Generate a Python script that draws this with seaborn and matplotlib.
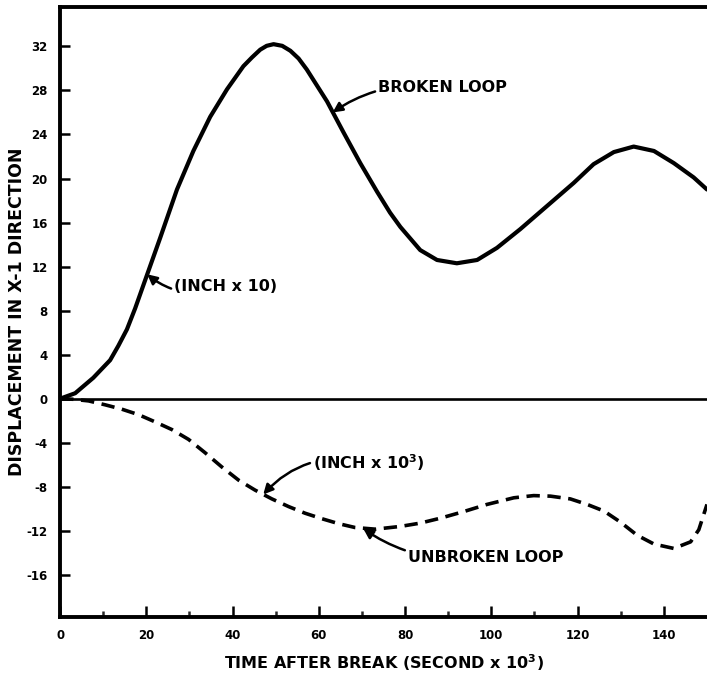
import numpy as np
import pandas as pd
import matplotlib
matplotlib.use("Agg")
import matplotlib.pyplot as plt
import seaborn as sns

# Broken loop (INCH x 10) - solid curve
broken_t = [0, 3.5, 7.7, 11.6, 13.5, 15.5, 17.4, 19.3, 23.2, 27.1, 30.9, 34.8, 38.7, 42.5,
            44.5, 46.4, 47.9, 49.5, 51.5, 53.4, 55.3, 57.2, 61.9, 65.7, 69.6, 73.5, 76.5,
            78.9, 83.5, 87.4, 92.0, 96.7, 101.3, 106.7, 112.9, 119.1, 123.7, 128.4,
            133.0, 137.7, 142.3, 146.9, 150.0]
broken_d = [0.0, 0.5, 1.9, 3.5, 4.8, 6.3, 8.2, 10.3, 14.6, 19.0, 22.5, 25.6, 28.1, 30.2,
            31.0, 31.7, 32.05, 32.2, 32.05, 31.6, 30.9, 29.9, 27.0, 24.2, 21.4, 18.8, 16.9,
            15.6, 13.5, 12.6, 12.3, 12.6, 13.7, 15.4, 17.5, 19.6, 21.3, 22.4,
            22.9, 22.5, 21.4, 20.1, 19.0]

# Unbroken loop (INCH x 10^3) - dashed curve
unbroken_t = [0, 3.0, 6.6, 10.4, 14.3, 18.2, 22.0, 25.9, 29.8, 33.6, 37.5, 41.4, 45.2,
              49.1, 53.0, 56.8, 60.7, 64.6, 68.4, 73.1, 78.9, 83.5, 88.2, 93.6, 99.0,
              105.2, 109.8, 113.7, 118.3, 122.2, 126.1, 129.9, 133.8, 137.7, 142.3,
              146.2, 148.1, 150.0]
unbroken_d = [0.0, -0.05, -0.2, -0.55, -0.95, -1.45, -2.1, -2.8, -3.7, -4.9, -6.2, -7.4, -8.3,
              -9.1, -9.8, -10.4, -10.9, -11.35, -11.7, -11.85, -11.6, -11.3, -10.85, -10.25, -9.6,
              -9.0, -8.8, -8.85, -9.1, -9.6, -10.2, -11.2, -12.4, -13.2, -13.6,
              -13.0, -11.9, -9.6]

x_ticks = [0, 20, 40, 60, 80, 100, 120, 140]
x_minor = [10, 30, 50, 70, 90, 110, 130]
y_ticks = [-16, -12, -8, -4, 0, 4, 8, 12, 16, 20, 24, 28, 32]

sns.set_theme(style="white")
plt.rcParams['font.family'] = ['DejaVu Sans']
plt.rcParams['font.weight'] = 'bold'
plt.rcParams['text.color'] = 'black'
plt.rcParams['axes.labelcolor'] = 'black'

fig = plt.figure(figsize=(7.07, 6.74), dpi=100)
ax = fig.add_axes([0.085, 0.085, 0.915, 0.905])

broken = pd.DataFrame({"t": broken_t, "d": broken_d})
unbroken = pd.DataFrame({"t": unbroken_t, "d": unbroken_d})

sns.lineplot(data=broken, x="t", y="d", ax=ax, color="black", lw=3.0,
             estimator=None, sort=False, solid_joinstyle="round")
sns.lineplot(data=unbroken, x="t", y="d", ax=ax, color="black", lw=2.6,
             estimator=None, sort=False, linestyle=(0, (3.7, 2.1)),
             dash_joinstyle="round")
ax.axhline(0, color="black", lw=1.9, zorder=1)

ax.set_xlim(0, 150)
ax.set_ylim(-19.8, 35.6)

for s in ["left", "bottom", "top"]:
    ax.spines[s].set_visible(True)
    ax.spines[s].set_color("black")
    ax.spines[s].set_linewidth(2.8)
ax.spines["right"].set_visible(False)

ax.set_xticks(x_ticks)
ax.set_xticklabels([str(v) for v in x_ticks])
ax.set_xticks(x_minor, minor=True)
ax.set_yticks(y_ticks)
ax.set_yticklabels([str(v) for v in y_ticks])
ax.tick_params(axis="x", which="major", direction="in", length=8, width=1.8,
               pad=9, labelsize=8.5, colors="black", bottom=True, top=False)
ax.tick_params(axis="x", which="minor", direction="in", length=4.5, width=1.8,
               bottom=True, top=False)
ax.tick_params(axis="y", direction="in", length=7, width=1.8, pad=9,
               labelsize=8.5, colors="black", left=True, right=False)
for lab in ax.get_xticklabels() + ax.get_yticklabels():
    lab.set_fontweight("bold")

ax.set_xlabel("TIME AFTER BREAK (SECOND x 10$^{\\mathbf{3}}$)", fontsize=11.5,
              fontweight="bold", labelpad=7, color="black")
ax.set_ylabel("DISPLACEMENT IN X-1 DIRECTION", fontsize=12.5, fontweight="bold",
              labelpad=0, color="black")

arrow = dict(arrowstyle="-|>,head_length=0.5,head_width=0.25", color="black", lw=1.8,
             shrinkA=0, shrinkB=0)
txt = dict(fontsize=11.5, fontweight="bold", va="center", ha="left", color="black")

ax.annotate("BROKEN LOOP", xy=(63.2, 26.0), xytext=(73.8, 28.3),
            arrowprops=dict(arrow, connectionstyle="arc3,rad=0.2"), **txt)
ax.annotate("(INCH x 10)", xy=(20.2, 11.3), xytext=(26.5, 10.2),
            arrowprops=dict(arrow, connectionstyle="arc3,rad=-0.3"), **txt)
ax.annotate("(INCH x 10$^{\\mathbf{3}}$)", xy=(47.1, -8.7), xytext=(58.7, -5.8),
            arrowprops=dict(arrow, connectionstyle="arc3,rad=0.3"), **txt)
ax.annotate("UNBROKEN LOOP", xy=(70.3, -11.8), xytext=(80.7, -14.4),
            arrowprops=dict(arrow, connectionstyle="arc3,rad=-0.2"), **txt)

fig.savefig("out.png", dpi=100)
